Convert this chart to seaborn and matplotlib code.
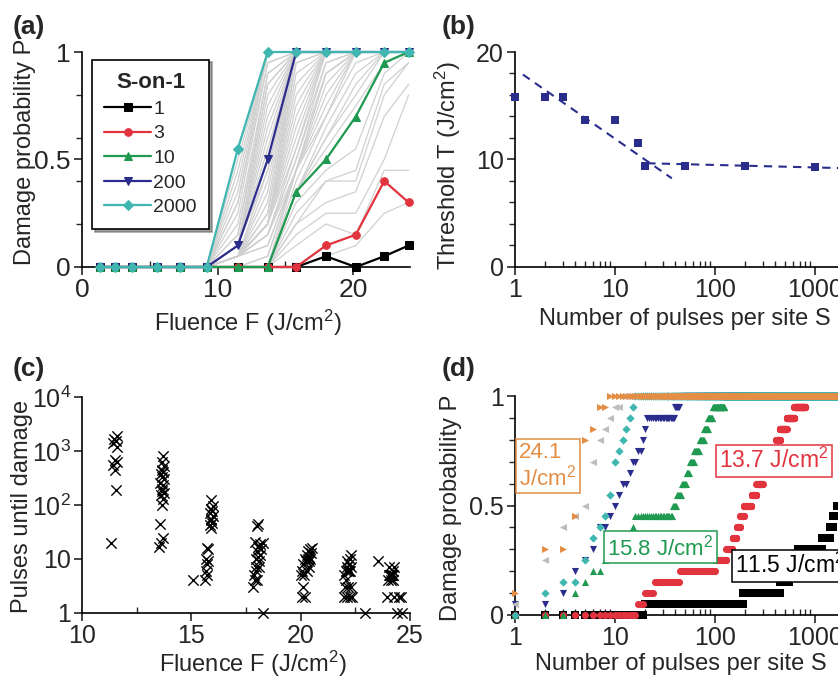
import numpy as np
import pandas as pd
import matplotlib
matplotlib.use("Agg")
import matplotlib.pyplot as plt
import seaborn as sns
from matplotlib.ticker import LogLocator, NullFormatter, FixedLocator

# fluences of the S-on-1 test (J/cm^2)
fluence = [1.3, 2.4, 3.7, 5.5, 7.2, 9.2, 11.5, 13.7, 15.8, 18.0, 20.2, 22.3, 24.1]
n_sites = 20

# pulses until damage of every damaged site (sites not damaged after 2000 pulses are left out)
pulses_11_5 = [20, 190, 450, 550, 620, 680, 1170, 1400, 1500, 1660, 1900]
pulses_13_7 = [17, 20, 25, 45, 100, 130, 150, 165, 178, 195, 232, 260, 300, 330, 380, 410, 445, 520, 620, 800]
pulses_15_8 = [4, 4, 5, 6, 8, 9, 10, 15, 16, 38, 42, 47, 52, 56, 62, 70, 78, 86, 95, 125]
pulses_18_0 = [1, 3, 4, 4, 5, 6, 7, 7, 9, 10, 11, 12, 14, 15, 17, 19, 20, 21, 40, 45]
pulses_20_2 = [2, 2, 3, 5, 5, 6, 6, 7, 8, 9, 9, 10, 10, 10, 11, 12, 13, 14, 15, 16]
pulses_22_3 = [1, 2, 2, 2, 2, 3, 3, 3, 4, 5, 6, 6, 6, 6, 7, 7, 8, 9, 10, 12]
pulses_24_1 = [1, 1, 2, 2, 2, 2, 4, 4, 4, 5, 5, 5, 5, 5, 5, 5, 6, 7, 7, 9]

# measured fluence of each of those sites (panel c)
site_F_11_5 = [11.32, 11.56, 11.50, 11.44, 11.58, 11.52, 11.62, 11.40, 11.55, 11.47, 11.60]
site_F_13_7 = [13.52, 13.62, 13.70, 13.55, 13.66, 13.72, 13.60, 13.75, 13.68, 13.64,
               13.71, 13.58, 13.74, 13.66, 13.62, 13.70, 13.68, 13.73, 13.65, 13.70]
site_F_15_8 = [15.08, 15.62, 15.70, 15.66, 15.72, 15.78, 15.68, 15.74, 15.70, 15.90,
               15.84, 15.96, 15.88, 15.92, 16.00, 15.86, 15.94, 15.90, 15.98, 15.92]
site_F_18_0 = [18.26, 17.82, 17.90, 18.02, 17.86, 17.94, 18.08, 17.98, 18.10, 17.96,
               18.04, 18.14, 18.00, 18.20, 18.06, 18.12, 18.30, 17.92, 18.00, 18.04]
site_F_20_2 = [20.04, 20.22, 20.10, 20.00, 20.16, 20.08, 20.30, 20.36, 20.12, 20.40,
               20.26, 20.20, 20.44, 20.32, 20.38, 20.28, 20.48, 20.34, 20.42, 20.52]
site_F_22_3 = [22.92, 21.96, 22.10, 22.24, 22.34, 22.02, 22.18, 22.30, 22.08, 21.98,
               22.16, 22.26, 22.06, 22.20, 22.14, 22.28, 22.22, 22.12, 22.24, 22.32]
site_F_24_1 = [24.40, 24.62, 23.96, 24.28, 24.48, 24.58, 23.98, 24.12, 24.20, 24.04,
               24.10, 24.16, 24.24, 24.08, 24.18, 24.14, 24.22, 24.06, 24.26, 23.52]

# threshold vs pulses per site (panel b) and the two fitted lines
thr_S = [1, 2, 3, 5, 10, 17, 20, 50, 200, 1000, 2000]
thr_T = [15.8, 15.8, 15.8, 13.7, 13.7, 11.5, 9.4, 9.4, 9.4, 9.3, 9.2]
fit_steep_S = [1.2, 37]
fit_steep_T = [17.9, 8.25]
fit_flat_S = [21, 3000]
fit_flat_T = [9.65, 9.15]

pulses = [[], [], [], [], [], [], pulses_11_5, pulses_13_7, pulses_15_8,
          pulses_18_0, pulses_20_2, pulses_22_3, pulses_24_1]

# damage probability P(S, F): fraction of sites damaged within S pulses
S_all = np.arange(1, 2001)
P = np.zeros((len(S_all), len(fluence)))
for j, p in enumerate(pulses):
    p = np.asarray(p, dtype=float)
    P[:, j] = (p[None, :] <= S_all[:, None]).sum(axis=1) / n_sites

sns.set_style("ticks")
plt.rcParams["font.family"] = ["Liberation Sans", "DejaVu Sans"]
plt.rcParams["mathtext.fontset"] = "custom"
plt.rcParams["mathtext.rm"] = "Liberation Sans"
plt.rcParams["mathtext.it"] = "Liberation Sans:italic"
plt.rcParams["mathtext.bf"] = "Liberation Sans:bold"
plt.rcParams["axes.linewidth"] = 1.2
plt.rcParams["axes.edgecolor"] = "black"

navy = "#2b2d8c"
red = "#e2343f"
green = "#1f9a50"
cyan = "#3fb6b0"
orange = "#e38d45"
lgray = "#bdbdbd"

TICK = 18
LAB = 17

fig = plt.figure(figsize=(8.38, 6.79), dpi=100)
ax_a = fig.add_axes([82 / 838, 1 - 267 / 679, 328 / 838, 215 / 679])
ax_b = fig.add_axes([515 / 838, 1 - 267 / 679, 350 / 838, 215 / 679])
ax_c = fig.add_axes([82 / 838, 1 - 613 / 679, 328 / 838, 216 / 679])
ax_d = fig.add_axes([515 / 838, 1 - 615 / 679, 350 / 838, 219 / 679])


def style_axis(ax):
    sns.despine(ax=ax)
    ax.tick_params(which="major", direction="out", length=6, width=1.2, labelsize=TICK, pad=2)
    ax.tick_params(axis="y", which="minor", direction="out", length=4, width=1.0)
    ax.tick_params(axis="x", which="minor", direction="in", length=4, width=1.0)


# ---- (a) damage probability vs fluence
gray_curves = np.unique(P, axis=0)
ax_a.plot(fluence, gray_curves.T, color="#d0d0d0", lw=0.9, zorder=1)
S_hl = [1, 3, 10, 200, 2000]
col_hl = ["black", red, green, navy, cyan]
mk_hl = ["s", "o", "^", "v", "D"]
for S, col, mk in zip(S_hl, col_hl, mk_hl):
    sns.lineplot(x=fluence, y=P[S - 1], color=col, marker=mk, markersize=5.5,
                 mec=col, lw=1.6, label=str(S), ax=ax_a, clip_on=False, zorder=3)
ax_a.set_xlim(0, 24.2)
ax_a.set_ylim(0, 1)
ax_a.set_xticks([0, 10, 20], ["0", "10", "20"])
ax_a.set_yticks([0, 0.5, 1], ["0", "0.5", "1"])
ax_a.xaxis.set_minor_locator(FixedLocator([5, 15]))
ax_a.yaxis.set_minor_locator(FixedLocator([0.2, 0.4, 0.6, 0.8]))
style_axis(ax_a)
ax_a.tick_params(which="major", labelsize=19)
ax_a.set_xlabel("Fluence F (J/cm$^2$)", fontsize=LAB)
ax_a.set_ylabel("Damage probability P", fontsize=LAB)
ax_a.xaxis.set_label_coords(0.506, -0.19)
ax_a.yaxis.set_label_coords(-0.14, 0.535)
leg = ax_a.legend(title="S-on-1", loc="upper left", bbox_to_anchor=(0.03, 0.965),
                  borderaxespad=0, frameon=True, fancybox=False, shadow=True,
                  edgecolor="black", framealpha=1, fontsize=14,
                  title_fontproperties={"weight": "bold", "size": 16},
                  handlelength=2.4, labelspacing=0.36, handletextpad=0.1,
                  borderpad=0.65)
leg.get_frame().set_linewidth(1.2)

# ---- (b) threshold vs number of pulses
ax_b.set_xscale("log")
ax_b.plot(fit_steep_S, fit_steep_T, color=navy, lw=1.5, ls=(0, (4, 3)), zorder=2)
ax_b.plot(fit_flat_S, fit_flat_T, color=navy, lw=1.5, ls=(0, (4, 3)), zorder=2)
sns.scatterplot(x=thr_S, y=thr_T, marker="s", color=navy, s=34, linewidth=0,
                ax=ax_b, zorder=3, clip_on=False, legend=False)
ax_b.set_xlim(1, 10 ** 3.5)
ax_b.set_ylim(0, 20)
ax_b.set_xticks([1, 10, 100, 1000], ["1", "10", "100", "1000"])
ax_b.xaxis.set_minor_locator(LogLocator(base=10, subs=np.arange(2, 10)))
ax_b.xaxis.set_minor_formatter(NullFormatter())
ax_b.set_yticks([0, 10, 20], ["0", "10", "20"])
ax_b.yaxis.set_minor_locator(FixedLocator([2, 4, 6, 8, 12, 14, 16, 18]))
style_axis(ax_b)
ax_b.set_xlabel("Number of pulses per site S", fontsize=LAB)
ax_b.set_ylabel("Threshold T (J/cm$^2$)", fontsize=LAB)
ax_b.xaxis.set_label_coords(0.486, -0.19)
ax_b.yaxis.set_label_coords(-0.149, 0.474)

# ---- (c) pulses until damage vs fluence
site_F = site_F_11_5 + site_F_13_7 + site_F_15_8 + site_F_18_0 + site_F_20_2 + site_F_22_3 + site_F_24_1
site_N = pulses_11_5 + pulses_13_7 + pulses_15_8 + pulses_18_0 + pulses_20_2 + pulses_22_3 + pulses_24_1
df_c = pd.DataFrame({"F": site_F, "N": site_N})
sns.scatterplot(data=df_c, x="F", y="N", marker="x", color="black", s=55, linewidth=1.0,
                ax=ax_c, clip_on=False, legend=False, zorder=3)
ax_c.set_yscale("log")
ax_c.set_xlim(10, 25)
ax_c.set_ylim(1, 1e4)
ax_c.set_xticks([10, 15, 20, 25], ["10", "15", "20", "25"])
ax_c.xaxis.set_minor_locator(FixedLocator([12.5, 17.5, 22.5]))
ax_c.set_yticks([1, 10, 100, 1000, 10000], ["1", "10", "10$^2$", "10$^3$", "10$^4$"])
ax_c.yaxis.set_minor_locator(LogLocator(base=10, subs=np.arange(2, 10)))
ax_c.yaxis.set_minor_formatter(NullFormatter())
style_axis(ax_c)
ax_c.set_xlabel("Fluence F (J/cm$^2$)", fontsize=LAB)
ax_c.set_ylabel("Pulses until damage", fontsize=LAB)
ax_c.xaxis.set_label_coords(0.52, -0.165)
ax_c.yaxis.set_label_coords(-0.15, 0.495)

# ---- (d) damage probability vs pulses per site, one series per fluence
d_cols = ["black", red, green, navy, cyan, lgray, orange]
d_marks = ["s", "o", "^", "v", "D", "<", ">"]
for k, (col, mk) in enumerate(zip(d_cols, d_marks)):
    j = 6 + k
    sns.scatterplot(x=S_all, y=P[:, j], marker=mk, color=col, s=26 if mk != "D" else 18,
                    linewidth=0, ax=ax_d, clip_on=False, legend=False, zorder=2 + k)
ax_d.set_xscale("log")
ax_d.set_xlim(1, 10 ** 3.5)
ax_d.set_ylim(0, 1)
ax_d.set_xticks([1, 10, 100, 1000], ["1", "10", "100", "1000"])
ax_d.xaxis.set_minor_locator(LogLocator(base=10, subs=np.arange(2, 10)))
ax_d.xaxis.set_minor_formatter(NullFormatter())
ax_d.set_yticks([0, 0.5, 1], ["0", "0.5", "1"])
ax_d.yaxis.set_minor_locator(FixedLocator([0.1, 0.2, 0.3, 0.4, 0.6, 0.7, 0.8, 0.9]))
style_axis(ax_d)
ax_d.set_xlabel("Number of pulses per site S", fontsize=LAB)
ax_d.set_ylabel("Damage probability P", fontsize=LAB)
ax_d.xaxis.set_label_coords(0.474, -0.175)
ax_d.yaxis.set_label_coords(-0.151, 0.489)

box_kw = dict(boxstyle="square,pad=0.15", fc="white", lw=1.1)
ax_d.text(1.1, 0.68, "24.1\nJ/cm$^2$", color=orange, fontsize=16, ha="left", va="center",
          linespacing=1.05, bbox=dict(ec=orange, **box_kw), zorder=20)
ax_d.text(8.3, 0.31, "15.8 J/cm$^2$", color=green, fontsize=16, ha="left", va="center",
          bbox=dict(ec=green, **box_kw), zorder=20)
ax_d.text(110, 0.705, "13.7 J/cm$^2$", color=red, fontsize=16.5, ha="left", va="center",
          bbox=dict(ec=red, **box_kw), zorder=20)
ax_d.text(160, 0.225, "11.5 J/cm$^2$", color="black", fontsize=16.5, ha="left", va="center",
          bbox=dict(ec="black", **box_kw), zorder=20)

# panel letters
for lab, x, y in [("(a)", 0.015, 0.96), ("(b)", 0.527, 0.96), ("(c)", 0.015, 0.457), ("(d)", 0.527, 0.457)]:
    fig.text(x, y, lab, fontsize=19, fontweight="bold", ha="left", va="center")

fig.savefig("out.png", dpi=100)
